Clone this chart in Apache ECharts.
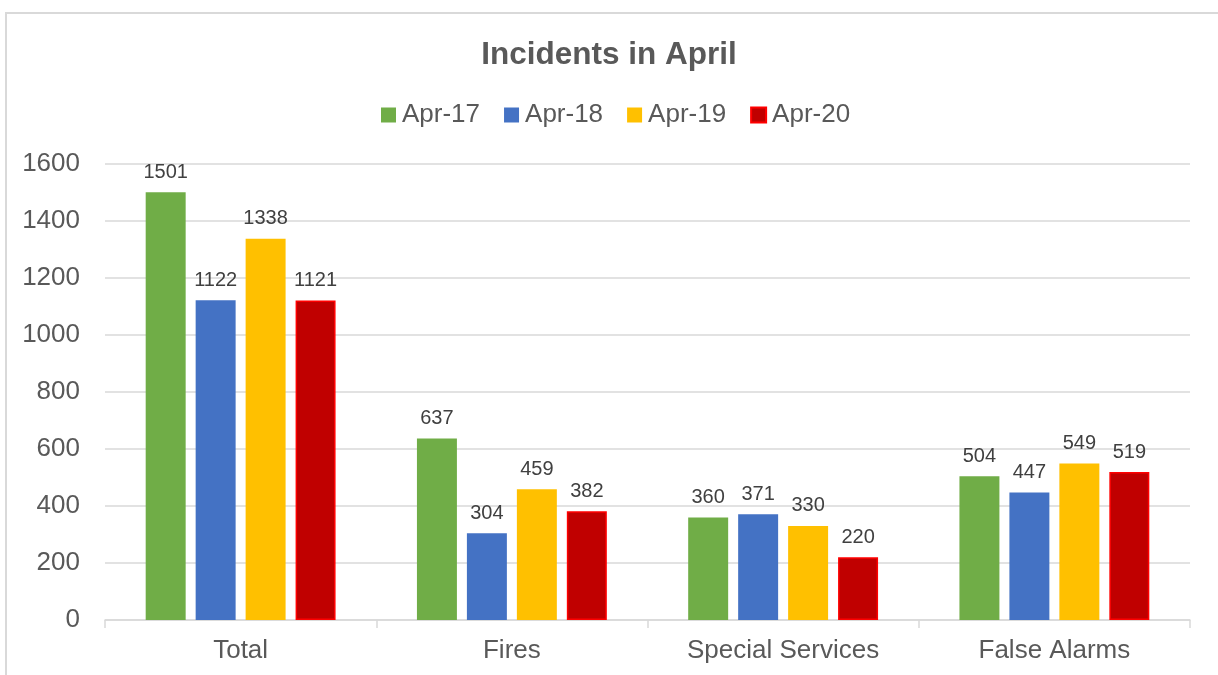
<!DOCTYPE html>
<html>
<head>
<meta charset="utf-8">
<title>Incidents in April</title>
<script src="https://cdn.jsdelivr.net/npm/echarts@6/dist/echarts.min.js"></script>
<style>
  html, body { margin: 0; padding: 0; background: #fff; overflow: hidden; }
  #frame { position: absolute; left: 5px; top: 12px; width: 1400px; height: 800px;
           border-left: 2px solid #d9d9d9; border-top: 2px solid #d9d9d9; }
  #chart { position: absolute; left: 0; top: 0; width: 1218px; height: 675px; }
</style>
</head>
<body>
<div id="frame"></div>
<div id="chart"></div>
<script>
// 数据
const categories = ['Total', 'Fires', 'Special Services', 'False Alarms'];
const seriesNames = ['Apr-17', 'Apr-18', 'Apr-19', 'Apr-20'];
const apr17 = [1501, 637, 360, 504];
const apr18 = [1122, 304, 371, 447];
const apr19 = [1338, 459, 330, 549];
const apr20 = [1121, 382, 220, 519];
const yTicks = [0, 200, 400, 600, 800, 1000, 1200, 1400, 1600];

const seriesValues = [apr17, apr18, apr19, apr20];
const colors = ['#70ad47', '#4472c4', '#ffc000', '#c00000'];
const borders = ['#70ad47', '#4472c4', '#ffc000', '#ff0000'];

const textColor = '#595959';
const fontFamily = '"Liberation Sans", Arial, sans-serif';

const chart = echarts.init(document.getElementById('chart'));

const option = {
  animation: false,
  title: {
    text: 'Incidents in April',
    left: 'center',
    top: 34,
    textStyle: { fontSize: 31.5, fontWeight: 'bold', color: textColor, fontFamily: fontFamily }
  },
  legend: {
    top: 97,
    left: 376,
    itemWidth: 15,
    itemHeight: 15,
    itemGap: 24,
    icon: 'rect',
    data: seriesNames,
    textStyle: { fontSize: 26, color: textColor, fontFamily: fontFamily, padding: [0, 0, 0, 1] }
  },
  grid: { left: 105, right: 28, top: 164, bottom: 55, containLabel: false },
  xAxis: {
    type: 'category',
    data: categories,
    axisLine: { lineStyle: { color: '#d9d9d9', width: 1.5 } },
    axisTick: { show: true, length: 8, lineStyle: { color: '#d9d9d9', width: 1.5 } },
    axisLabel: { fontSize: 26, color: textColor, margin: 18, fontFamily: fontFamily }
  },
  yAxis: {
    type: 'value',
    min: yTicks[0],
    max: yTicks[yTicks.length - 1],
    interval: yTicks[1] - yTicks[0],
    axisLine: { show: false },
    axisTick: { show: false },
    axisLabel: { fontSize: 26, color: textColor, margin: 25, fontFamily: fontFamily,
                 formatter: v => String(v) },
    splitLine: { lineStyle: { color: '#d9d9d9', width: 1.5 } }
  },
  series: seriesNames.map((name, i) => ({
    name: name,
    type: 'bar',
    data: seriesValues[i],
    barGap: '25%',
    barCategoryGap: '30%',
    itemStyle: { color: colors[i], borderColor: borders[i], borderWidth: i === 3 ? 1.5 : 0 },
    label: {
      show: true,
      position: 'top',
      distance: 10,
      fontSize: 20,
      color: '#404040',
      fontFamily: fontFamily
    }
  }))
};

chart.setOption(option);
</script>
</body>
</html>
